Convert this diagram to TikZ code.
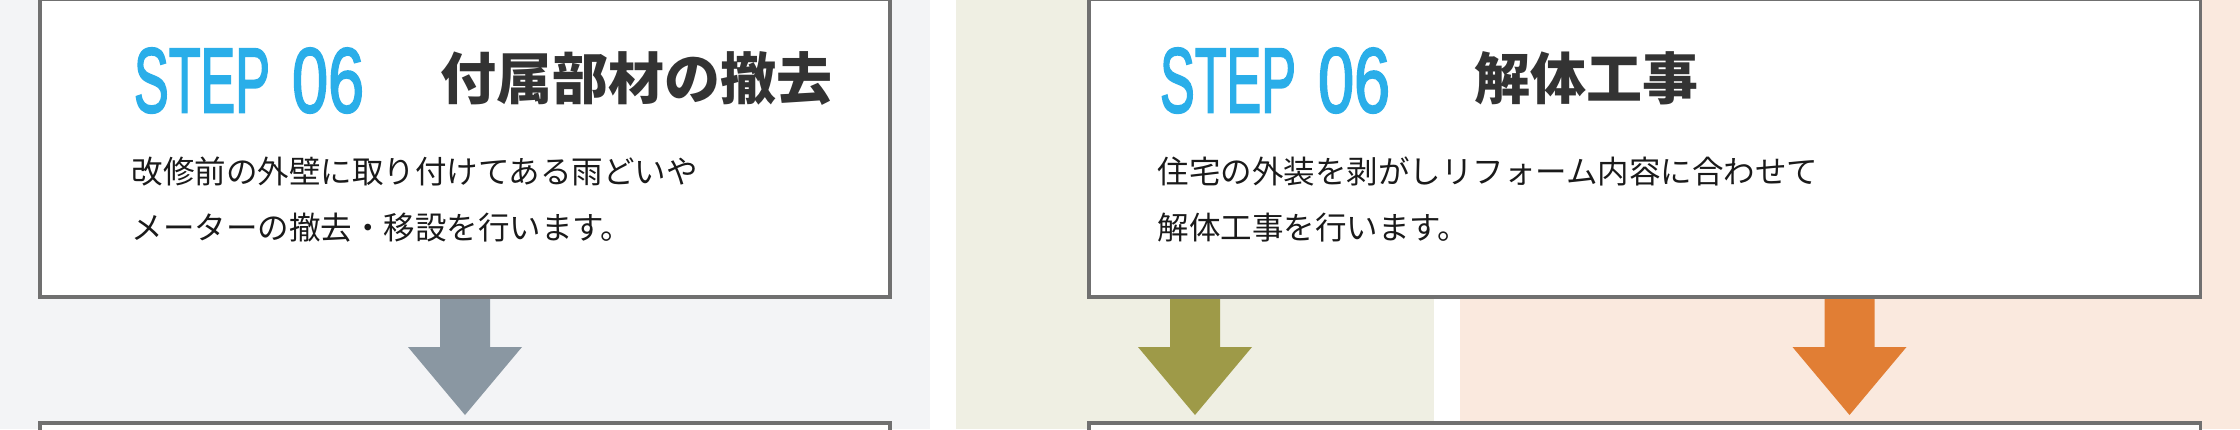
\documentclass[tikz,border=0pt]{standalone}
\usepackage{fontspec}
\usetikzlibrary{calc}
\setmainfont{Liberation Sans}
\newfontfamily\stepfont{Liberation Sans}[FakeBold=2.5]
\newfontfamily\jpfont{Noto Sans CJK JP}
\definecolor{bgL}{HTML}{F3F4F6}
\definecolor{bgO}{HTML}{EFEFE3}
\definecolor{bgP}{HTML}{FAE9DE}
\definecolor{boxline}{HTML}{707070}
\definecolor{stepblue}{HTML}{2AAEE9}
\definecolor{titlegray}{HTML}{333333}
\definecolor{bodyblack}{HTML}{1A1A1A}
\definecolor{arrGray}{HTML}{8A97A2}
\definecolor{arrOlive}{HTML}{9E9A48}
\definecolor{arrOrange}{HTML}{E17E34}
\tikzset{
  stepbox/.style={draw=boxline, line width=3.5pt, fill=white, rectangle, inner sep=0pt, outer sep=0pt},
  steplabel/.style={inner sep=0pt, outer sep=0pt, text=stepblue, font=\stepfont},
  titlelabel/.style={inner sep=0pt, outer sep=0pt, text=titlegray, font=\jpfont\bfseries\fontsize{56pt}{60pt}\selectfont},
  bodylabel/.style={inner sep=0pt, outer sep=0pt, text=bodyblack, font=\jpfont\fontsize{31.5pt}{36pt}\selectfont},
}
\newcommand\steptext{\resizebox{136pt}{64pt}{STEP}\hspace{22pt}\resizebox{72pt}{64pt}{06}}
\newcommand\flowarrow[2]{%
  \fill[#1] ($(#2)+(-25,0)$) -- ++(50,0) -- ++(0,50) -- ++(32,0) -- ++(-57,68) -- ++(-57,-68) -- ++(32,0) -- cycle;}
\begin{document}
\begin{tikzpicture}[x=1pt,y=-1pt]
\useasboundingbox (0,0) rectangle (2240,429);
\clip (0,0) rectangle (2240,429);
% backgrounds
\fill[bgL] (0,0) rectangle (930,429);
\fill[bgO] (956,0) rectangle (1434,429);
\fill[bgP] (1460,0) rectangle (2240,429);
% lower boxes
\node[stepbox, minimum width=850pt, minimum height=100pt] (n1) at (465,473) {};
\node[stepbox, minimum width=1111.5pt, minimum height=100pt] (n2) at (1644.75,473) {};
% upper boxes
\node[stepbox, minimum width=850pt, minimum height=297.5pt] (b1) at (465,148.25) {};
\node[stepbox, minimum width=1111.5pt, minimum height=297.5pt] (b2) at (1644.75,148.25) {};
% arrows
\coordinate (s1) at (b1.south);
\coordinate (s2) at (b2.south -| 1195,0);
\coordinate (s3) at (b2.south -| 1849.5,0);
\flowarrow{arrGray}{s1}
\flowarrow{arrOlive}{s2}
\flowarrow{arrOrange}{s3}
\draw[boxline, line width=3.5pt] (b1.south west) -- (b1.south east);
\draw[boxline, line width=3.5pt] (b2.south west) -- (b2.south east);
% left texts
\node[steplabel, anchor=south west] (st1) at (134,113) {\steptext};
\node[titlelabel, anchor=base west] (t1) at (440,99) {付属部材の撤去};
\node[bodylabel, anchor=base west] (d1a) at (131.5,183.8) {改修前の外壁に取り付けてある雨どいや};
\node[bodylabel, anchor=base west] (d1b) at (131.5,239.8) {メーターの撤去・移設を行います。};
% right texts
\node[steplabel, anchor=south west] (st2) at (1160,113) {\steptext};
\node[titlelabel, anchor=base west] (t2) at (1474,99) {解体工事};
\node[bodylabel, anchor=base west] (d2a) at (1157.5,183.8) {住宅の外装を剥がしリフォーム内容に合わせて};
\node[bodylabel, anchor=base west] (d2b) at (1157.5,239.8) {解体工事を行います。};
\end{tikzpicture}
\end{document}
